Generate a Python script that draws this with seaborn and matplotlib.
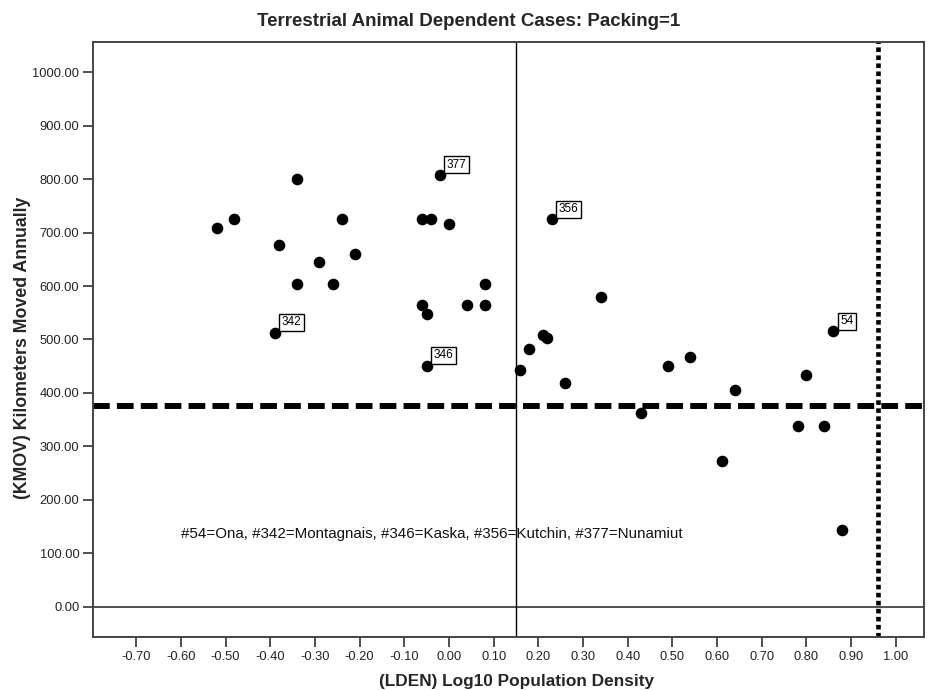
import numpy as np
import pandas as pd
import matplotlib
matplotlib.use("Agg")
import matplotlib.pyplot as plt
import seaborn as sns

# ---- data ----
lden = [-0.34, -0.48, -0.52, -0.24, -0.38, -0.21, -0.29, -0.34, -0.26, -0.39,
        -0.02, -0.06, -0.04, 0.00, 0.08, -0.06, -0.05, 0.04, 0.08, -0.05,
        0.23, 0.34, 0.21, 0.22, 0.18, 0.16, 0.26, 0.43, 0.49, 0.54,
        0.64, 0.80, 0.86, 0.78, 0.84, 0.61, 0.88]
kmov = [800, 725, 709, 725, 677, 661, 645, 604, 604, 513,
        808, 725, 725, 717, 604, 564, 548, 564, 564, 451,
        725, 580, 508, 502, 483, 443, 418, 362, 451, 467,
        405, 434, 515, 338, 338, 273, 143]
case_ids = ["", "", "", "", "", "", "", "", "", "342",
            "377", "", "", "", "", "", "", "", "", "346",
            "356", "", "", "", "", "", "", "", "", "",
            "", "", "54", "", "", "", ""]

x_ticks = [-0.70, -0.60, -0.50, -0.40, -0.30, -0.20, -0.10, 0.00, 0.10, 0.20,
           0.30, 0.40, 0.50, 0.60, 0.70, 0.80, 0.90, 1.00]
y_ticks = [0, 100, 200, 300, 400, 500, 600, 700, 800, 900, 1000]

mean_kmov = 375.0     # dashed reference line
packing_lden = 0.96   # dotted reference line
split_lden = 0.15     # solid vertical reference line

title = "Terrestrial Animal Dependent Cases: Packing=1"
x_label = "(LDEN) Log10 Population Density"
y_label = "(KMOV) Kilometers Moved Annually"
note = "#54=Ona, #342=Montagnais, #346=Kaska, #356=Kutchin, #377=Nunamiut"

df = pd.DataFrame({"LDEN": lden, "KMOV": kmov, "case": case_ids})

sns.set_style("white")
plt.rcParams['font.family'] = ['Liberation Sans', 'DejaVu Sans']

fig = plt.figure(figsize=(9.32, 6.9), dpi=100)
ax = fig.add_axes([0.1001, 0.0772, 0.8913, 0.8624])

ax.axhline(0, color='#333333', lw=1.2, zorder=1)
ax.axvline(split_lden, color='black', lw=1.0, zorder=1)
ax.axhline(mean_kmov, color='black', lw=4.3, linestyle=(0, (2.8, 1.2)), zorder=2)
ax.axvline(packing_lden, color='black', lw=3.3, linestyle=(0, (1.0, 0.75)), zorder=2)

sns.scatterplot(data=df, x="LDEN", y="KMOV", color='black', s=70,
                edgecolor='black', linewidth=0, ax=ax, zorder=3, legend=False)

for _, r in df[df["case"] != ""].iterrows():
    ax.annotate(r["case"], (r["LDEN"], r["KMOV"]), xytext=(5, 3),
                textcoords='offset points', ha='left', va='bottom',
                fontsize=8.5, color='black', zorder=4,
                bbox=dict(boxstyle='square,pad=0.22', fc='white', ec='black', lw=1.0))

ax.text(-0.60, 136, note, ha='left', va='center', fontsize=10.9, color='#111111')

ax.set_xlim(-0.796, 1.063)
ax.set_ylim(-56.6, 1057.7)
ax.set_xticks(x_ticks)
ax.set_xticklabels([f"{v:.2f}" for v in x_ticks])
ax.set_yticks(y_ticks)
ax.set_yticklabels([f"{v:.2f}" for v in y_ticks])

for sp in ax.spines.values():
    sp.set_color('#444444')
    sp.set_linewidth(1.4)

ax.tick_params(axis='both', direction='out', length=7, width=1.2, color='#333333',
               labelsize=9.3, labelcolor='#222222', pad=3,
               bottom=True, left=True, top=False, right=False)

ax.set_xlabel(x_label, fontsize=12.4, fontweight='bold')
ax.set_ylabel(y_label, fontsize=12.8, fontweight='bold')
ax.xaxis.label.set_va('center')
ax.yaxis.label.set_va('center')
ax.xaxis.set_label_coords(0.509, -0.0756)
ax.yaxis.set_label_coords(-0.0858, 0.485)

fig.text(0.503, 1 - 21 / 690, title, ha='center', va='center',
         fontsize=13.5, fontweight='bold')

fig.savefig("out.png", dpi=100)
